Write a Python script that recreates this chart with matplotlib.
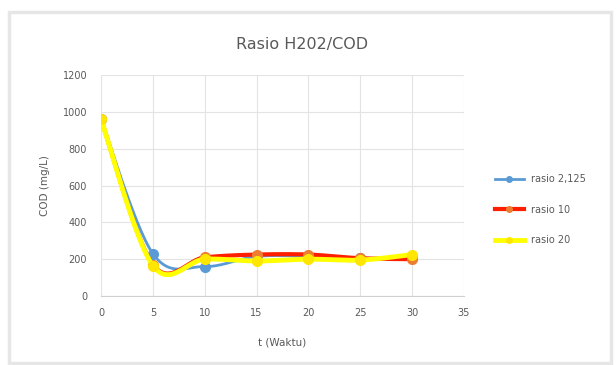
import matplotlib.pyplot as plt
import numpy as np
from matplotlib.patches import Rectangle

'''Data read off the chart'''
t = [0, 5, 10, 15, 20, 25, 30]
cod_2125 = [960, 230, 160, 215, 215, 205, 210]
cod_10 = [960, 170, 210, 225, 225, 205, 200]
cod_20 = [960, 165, 200, 190, 200, 195, 225]

x_ticks = [0, 5, 10, 15, 20, 25, 30, 35]
y_ticks = [0, 200, 400, 600, 800, 1000, 1200]

txt = "#595959"


def smooth(x, y, n=30):
    # Excel style smoothed line (Catmull-Rom through the points)
    p = np.column_stack([x, y]).astype(float)
    p = np.vstack([p[0], p, p[-1]])
    out = []
    for i in range(1, len(p) - 2):
        p0, p1, p2, p3 = p[i - 1], p[i], p[i + 1], p[i + 2]
        s = np.linspace(0, 1, n)[:, None]
        seg = 0.5 * ((2 * p1) + (-p0 + p2) * s + (2 * p0 - 5 * p1 + 4 * p2 - p3) * s**2
                     + (-p0 + 3 * p1 - 3 * p2 + p3) * s**3)
        out.append(seg)
    out = np.vstack(out)
    return out[:, 0], out[:, 1]


fig = plt.figure(figsize=(6.16, 3.65), dpi=100)
fig.patches.append(Rectangle((9 / 616, 2 / 365), 602 / 616, 351 / 365, transform=fig.transFigure,
                             fill=False, edgecolor="#e6e6e6", linewidth=2.5))
ax = fig.add_axes([101 / 616, 69 / 365, 363 / 616, 221 / 365])

series = [
    (cod_2125, "#5B9BD5", "#5B9BD5", 2.0, "rasio 2,125"),
    (cod_10, "#FF1F00", "#ED7D31", 3.0, "rasio 10"),
    (cod_20, "#FFFF00", "#FFE600", 3.5, "rasio 20"),
]
for y, lc, mc, lw, lab in series:
    sx, sy = smooth(t, y)
    ax.plot(sx, sy, color=lc, lw=lw, solid_capstyle="round")
    ax.plot(t, y, "o", color=mc, ms=7, mec=mc)
    ax.plot([], [], color=lc, lw=lw, marker="o", ms=4, mfc=mc, mec=mc, label=lab)

ax.set_xlim(0, 35)
ax.set_ylim(0, 1200)
ax.set_xticks(x_ticks)
ax.set_yticks(y_ticks)
ax.set_yticklabels([str(v) for v in y_ticks])
ax.grid(color="#e3e3e3", lw=0.8)
ax.set_axisbelow(True)
for s in ["top", "right", "left"]:
    ax.spines[s].set_visible(False)
ax.spines["bottom"].set_color("#d0d0d0")
ax.tick_params(length=0, labelsize=7, colors=txt)
ax.tick_params(axis="x", pad=9)
ax.tick_params(axis="y", pad=10)

fig.text(0.49, 1 - 45 / 365, "Rasio H202/COD", fontsize=11.5, color=txt, ha="center", va="center")
ax.set_xlabel("t (Waktu)", fontsize=7.5, color=txt, labelpad=14)
ax.set_ylabel("COD (mg/L)", fontsize=7.5, color=txt, labelpad=9)

leg = ax.legend(loc="center left", bbox_to_anchor=(1.06, 0.39), frameon=False, fontsize=7,
                labelcolor=txt, handlelength=3, labelspacing=2.1)

fig.savefig("out.png", dpi=100)
